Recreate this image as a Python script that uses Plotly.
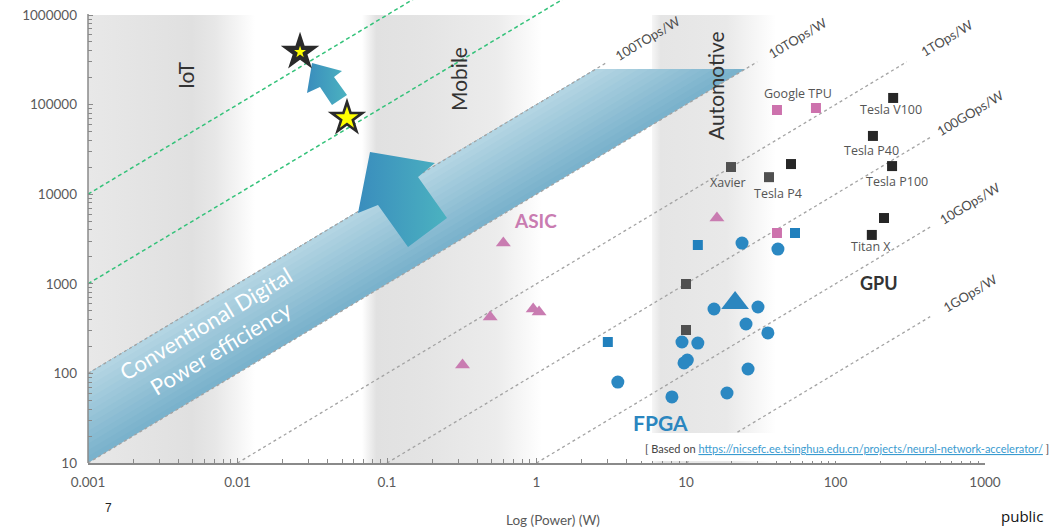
import math
import plotly.graph_objects as go

# ---------------- data ----------------
x_tickvals = [0.001, 0.01, 0.1, 1, 10, 100, 1000]
x_ticktext = ["0.001", "0.01", "0.1", "1", "10", "100", "1000"]
y_tickvals = [10, 100, 1000, 10000, 100000, 1000000]
y_ticktext = ["10", "100", "1000", "10000", "100000", "1000000"]

# efficiency lines (GOps/W)
eff_k = [1, 10, 100, 1000, 1e4, 1e5]
eff_labels = ["1GOps/W", "10GOps/W", "100GOps/W", "1TOps/W", "10TOps/W", "100TOps/W"]
green_k = [1e6, 1e7]

# ASIC (triangles)
asic_power = [0.60, 0.49, 0.32, 0.95, 1.04, 16.1]
asic_perf = [2850, 427, 124, 523, 484, 5420]

# FPGA circles
fpga_c_power = [23.7, 41.2, 15.4, 30.3, 25.2, 35.3, 9.4, 12.0, 10.2, 9.7, 26.0, 3.5, 8.05, 18.8]
fpga_c_perf = [2850, 2440, 523, 551, 356, 283, 224, 218, 141, 131, 112, 80, 54.6, 60.4]
# FPGA squares
fpga_s_power = [12.0, 3.0, 53.6]
fpga_s_perf = [2710, 224, 3690]
# FPGA big triangle
fpga_t_power = [21.3]
fpga_t_perf = [611]

# ASIC squares (TPU)
tpu_power = [40.6, 74.0, 40.6]
tpu_perf = [87000, 91600, 3690]

# GPU squares (black)
gpu_power = [243, 178, 239, 50.4, 211, 175]
gpu_perf = [118600, 44700, 20600, 21700, 5420, 3510]
# dark-gray squares
gray_power = [20.0, 35.9, 10.0, 10.0]
gray_perf = [20100, 15500, 995, 305]

# named devices
dev_names = ["Tesla V100", "Tesla P40", "Tesla P100", "Titan X", "Xavier", "Tesla P4", "Google TPU"]
dev_power = [243, 178, 239, 175, 20.0, 35.9, 40.6]
dev_perf = [118600, 44700, 20600, 3510, 20100, 15500, 87000]

# stars
star_power = [0.0262, 0.054]
star_perf = [386000, 70800]

# conventional digital band
band_k_low, band_k_high, band_top = 1e4, 1e5, 2.5e5

# ---------------- geometry helpers ----------------
L, R, T, B = 88, 71, 0, 66
W, H = 1056, 529
PW, PH = W - L - R, H - T - B
XR = [-3, 3]
YR = [1, 1 + PH / 89.6]


def dx(xp):
    return 10 ** (XR[0] + (xp - L) / PW * (XR[1] - XR[0]))


def dy(yp):
    return 10 ** (YR[0] + (H - B - yp) / PH * (YR[1] - YR[0]))


def P(xp, yp):
    return (xp - L) / PW, (H - B - yp) / PH


fig = go.Figure()

# ---- gray application bands ----
bands = [
    (0.001, dx(255), [[0, "#e8e8e8"], [0.62, "#e0e0e0"], [0.76, "#e7e7e7"], [1, "#ffffff"]]),
    (dx(362), dx(542), [[0, "#ffffff"], [0.08, "#e1e1e1"], [0.35, "#e4e4e4"], [0.75, "#ececec"], [1, "#ffffff"]]),
    (dx(652), dx(776), [[0, "#f6f6f6"], [0.07, "#e5e5e5"], [0.6, "#e9e9e9"], [1, "#ffffff"]]),
]
for x0, x1, cs in bands:
    fig.add_trace(go.Scatter(
        x=[x0, x1, x1, x0, x0], y=[10, 10, 1e6, 1e6, 10], mode="lines",
        fill="toself", line=dict(width=0),
        fillgradient=dict(type="horizontal", colorscale=cs),
        hoverinfo="skip", showlegend=False))

# ---- conventional digital band (stacked strips for cross gradient) ----
N = 14
c_low = (122, 178, 204)
c_high = (184, 216, 229)
for i in range(N):
    f = i / N
    ka = 10 ** (math.log10(band_k_low) + f * (math.log10(band_k_high) - math.log10(band_k_low)))
    kb = band_k_high
    col = tuple(int(c_low[j] + (c_high[j] - c_low[j]) * f) for j in range(3))
    fig.add_trace(go.Scatter(
        x=[0.001, band_top / ka, band_top / kb, 0.001, 0.001],
        y=[0.001 * ka, band_top, band_top, 0.001 * kb, 0.001 * ka],
        mode="lines", fill="toself", line=dict(width=0),
        fillcolor="rgb(%d,%d,%d)" % col, hoverinfo="skip", showlegend=False))

# ---- efficiency lines ----
for k in eff_k:
    xs = max(0.001, 10 / k)
    xe = min(430, 3e5 / k)
    fig.add_trace(go.Scatter(x=[xs, xe], y=[k * xs, k * xe], mode="lines",
                             line=dict(color="#a3a3a3", width=1.3, dash="3px,3px"),
                             hoverinfo="skip", showlegend=False))
for k in green_k:
    xe = 3e6 / k
    fig.add_trace(go.Scatter(x=[0.001, xe], y=[k * 0.001, k * xe], mode="lines",
                             line=dict(color="#34c27a", width=1.5, dash="4px,3px"),
                             hoverinfo="skip", showlegend=False))

# ---- arrows ----
big_arrow = [(370, 152), (435, 163), (418, 177), (447, 218), (408, 247), (378, 205), (358, 213), (370, 152)]
small_arrow = [(312, 63), (342, 71), (334, 77), (347, 95), (332, 105), (320, 87), (307, 93), (312, 63)]
for poly in (big_arrow, small_arrow):
    fig.add_trace(go.Scatter(
        x=[dx(p[0]) for p in poly], y=[dy(p[1]) for p in poly], mode="lines",
        fill="toself", line=dict(width=0),
        fillgradient=dict(type="horizontal", colorscale=[[0, "#3a8dbd"], [1, "#4bb2c0"]]),
        hoverinfo="skip", showlegend=False))

# ---- markers ----
def mk(x, y, symbol, color, size):
    fig.add_trace(go.Scatter(x=x, y=y, mode="markers",
                             marker=dict(symbol=symbol, color=color, size=size, line=dict(width=0)),
                             hoverinfo="skip", showlegend=False))

mk(asic_power, asic_perf, "triangle-up", "#c97cb1", 13)
mk(fpga_c_power, fpga_c_perf, "circle", "#2b88c2", 13)
mk(fpga_s_power, fpga_s_perf, "square", "#2180bd", 10)
mk(fpga_t_power, fpga_t_perf, "triangle-up", "#2b86bf", 24)
mk(tpu_power, tpu_perf, "square", "#cd72ad", 10)
mk(gpu_power, gpu_perf, "square", "#262626", 10)
mk(gray_power, gray_perf, "square", "#505050", 10)

# stars
mk(star_power, star_perf, "star", "#2a2a2a", 29)
mk(star_power[:1], star_perf[:1], "star", "#ffff00", 9)
mk(star_power[1:], star_perf[1:], "star", "#ffff00", 17)

# ---------------- annotations ----------------
ann = []
FONT = "Lato"

for k, lab in zip(eff_k, eff_labels):
    xe = min(430, 3e5 / k)
    ann.append(dict(x=math.log10(xe), y=math.log10(k * xe), xref="x", yref="y", text=lab,
                    showarrow=False, textangle=-31, xshift=40, yshift=24,
                    font=dict(family=FONT, size=13, color="#4d4d4d")))

shifts = [(-2, -12), (-1, -15), (5, -15), (-1, -12), (-3, -15), (9, -16), (21, 17)]
for name, px_, py_, (sx, sy) in zip(dev_names, dev_power, dev_perf, shifts):
    ann.append(dict(x=math.log10(px_), y=math.log10(py_), xref="x", yref="y", text=name,
                    showarrow=False, xshift=sx, yshift=sy,
                    font=dict(family="Open Sans", size=12.5, color="#555555")))


def ptext(xp, yp, text, size, color, angle=0, family=FONT, **kw):
    px, py = P(xp, yp)
    d = dict(x=px, y=py, xref="paper", yref="paper", text=text, showarrow=False,
             textangle=angle, font=dict(family=family, size=size, color=color),
             xanchor="center", yanchor="middle")
    d.update(kw)
    ann.append(d)


ptext(186, 75, "IoT", 21, "#333333", -90)
ptext(458, 79, "Mobile", 21, "#333333", -90)
ptext(716, 86, "Automotive", 21, "#333333", -90)
ptext(535, 220, "<b>ASIC</b>", 19, "#c97cb1")
ptext(660, 422, "<b>FPGA</b>", 21, "#2b86bf")
ptext(879, 283, "<b>GPU</b>", 18, "#333333")
ptext(213, 336, "Conventional Digital<br>Power efficiency", 22, "#ffffff", -31)
ptext(847, 448, "[ Based on <span style='color:#3a9bd0'><u>https://nicsefc.ee.tsinghua.edu.cn/projects/neural-network-accelerator/</u></span> ]",
      11, "#444444")
ptext(553, 520, "Log (Power) (W)", 13.5, "#595959")
ptext(108, 508, "7", 12, "#222222", family="Liberation Sans")
ptext(1022, 516, "public", 15, "#111111", family="Open Sans")

# white box behind reference note
shapes = [
    dict(type="rect", xref="paper", yref="paper",
         x0=P(640, 0)[0], x1=P(1056, 0)[0], y0=P(0, 461)[1], y1=P(0, 433)[1],
         fillcolor="#ffffff", line=dict(width=0), layer="above"),
    dict(type="line", xref="paper", yref="paper", x0=0, x1=0, y0=0, y1=P(0, 14)[1],
         line=dict(color="#8a8a8a", width=1.5)),
]

axis_common = dict(type="log", showgrid=False, zeroline=False,
                   ticks="inside", ticklen=5, tickcolor="#8a8a8a", tickwidth=1,
                   tickfont=dict(family=FONT, size=13.5, color="#5a5a5a"),
                   minor=dict(ticks="inside", ticklen=4, tickcolor="#8a8a8a", dtick="D1", showgrid=False))

fig.update_layout(
    width=W, height=H,
    margin=dict(l=L, r=R, t=T, b=B),
    paper_bgcolor="white", plot_bgcolor="white",
    showlegend=False,
    xaxis=dict(range=XR, tickmode="array", tickvals=x_tickvals, ticktext=x_ticktext,
               showline=True, linecolor="#8a8a8a", linewidth=1.5, ticklabelstandoff=6,
               **axis_common),
    yaxis=dict(range=YR, tickmode="array", tickvals=y_tickvals, ticktext=y_ticktext,
               showline=False, ticklabelstandoff=10, **axis_common),
    annotations=ann,
    shapes=shapes,
)

fig.write_html("out.html", config={"displayModeBar": False},
               post_script="document.body.style.margin='0';document.body.style.padding='0';document.body.style.overflow='hidden';")
